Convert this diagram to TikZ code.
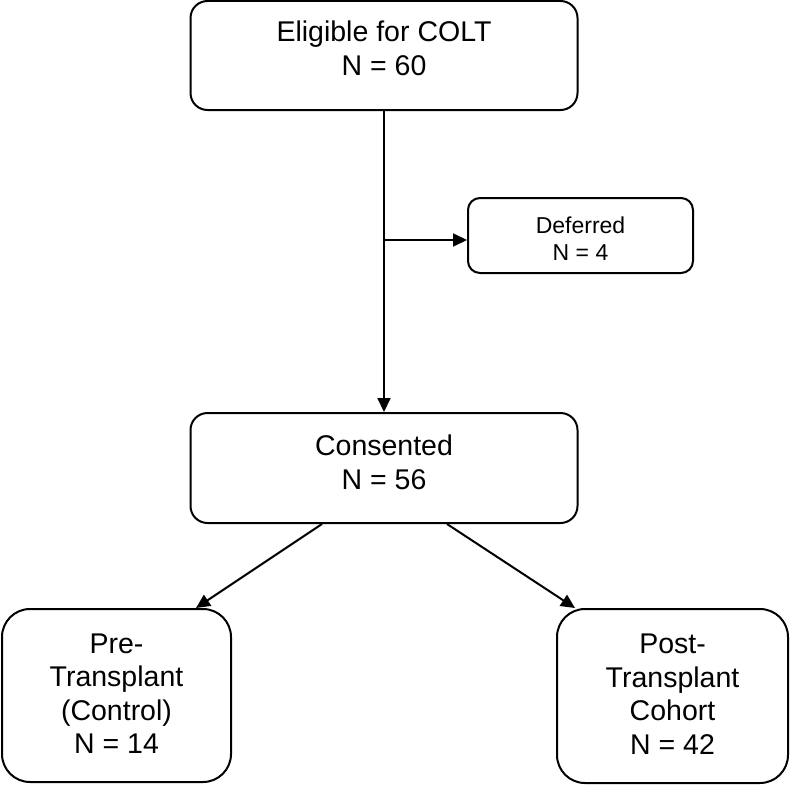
\documentclass[tikz,border=0pt]{standalone}
\usepackage{fontspec}
\setmainfont{Liberation Sans}
\usetikzlibrary{arrows.meta}
\begin{document}
\begin{tikzpicture}[x=1pt,y=-1pt,
  box/.style={draw, line width=2pt, inner sep=0pt, anchor=center},
  txt/.style={align=center, inner sep=0pt},
  big/.style={txt, font=\fontsize{28.5}{33.5}\selectfont},
  small/.style={txt, font=\fontsize{23}{27}\selectfont},
  arr/.style={line width=2pt, -{Triangle[length=14pt,width=13pt]}}]
\useasboundingbox (0,0) rectangle (791,784);
\node[box, rounded corners=17pt, minimum width=387pt, minimum height=109pt] (top) at (384,55.5) {};
\node[big] (topt) at ([yshift=7pt]top.center) {Eligible for COLT\\N = 60};
\node[box, rounded corners=12pt, minimum width=225pt, minimum height=75pt] (def) at (580.5,235.5) {};
\node[small] (deft) at ([yshift=-3.5pt]def.center) {Deferred\\N = 4};
\node[box, rounded corners=17pt, minimum width=387pt, minimum height=110pt] (cons) at (384,468) {};
\node[big] (const) at ([yshift=5.5pt]cons.center) {Consented\\N = 56};
\node[box, rounded corners=28pt, minimum width=229pt, minimum height=173pt] (pre) at (116.5,695.5) {};
\node[big] (pret) at ([yshift=2pt]pre.center) {Pre-\\Transplant\\(Control)\\N = 14};
\node[box, rounded corners=28pt, minimum width=231pt, minimum height=174pt] (post) at (672.5,696) {};
\node[big] (postt) at ([yshift=2pt]post.center) {Post-\\Transplant\\Cohort\\N = 42};
\draw[arr] (top.south) -- (cons.north);
\path (def.west) ++(0,4.5) coordinate (dw);
\draw[arr] (dw -| top.south) -- (dw);
\draw[arr] ([xshift=-62pt]cons.south) -- ([xshift=-36pt]pre.north east);
\draw[arr] ([xshift=63pt]cons.south) -- ([xshift=19pt]post.north west);
\end{tikzpicture}
\end{document}
